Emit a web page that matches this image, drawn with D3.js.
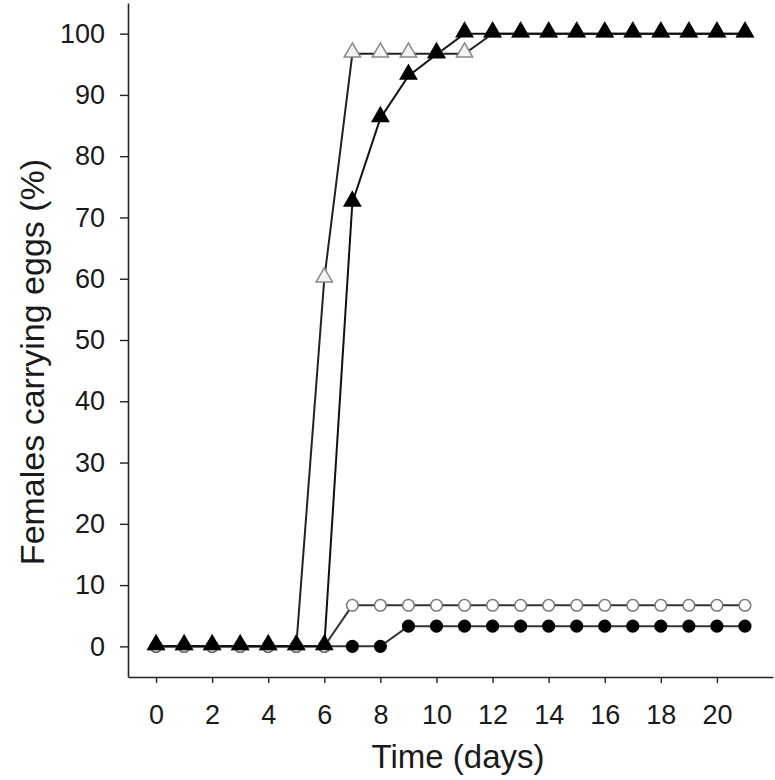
<!DOCTYPE html>
<html><head><meta charset="utf-8">
<script src="https://cdn.jsdelivr.net/npm/d3@7"></script>
<style>body{margin:0;background:#fff}svg{display:block}text{font-family:"Liberation Sans",Arial,sans-serif}</style>
</head><body><svg id="c" width="775" height="780"></svg>
<script>
const days = d3.range(0, 22);
const xTicks = [0,2,4,6,8,10,12,14,16,18,20];
const yTicks = [0,10,20,30,40,50,60,70,80,90,100];
const openTriangle = [0,0,0,0,0,0,60,96.7,96.7,96.7,96.7,96.7,100,100,100,100,100,100,100,100,100,100];
const filledTriangle = [0,0,0,0,0,0,0,72.4,86.2,93.1,96.6,100,100,100,100,100,100,100,100,100,100,100];
const openCircle = [0,0,0,0,0,0,0,6.7,6.7,6.7,6.7,6.7,6.7,6.7,6.7,6.7,6.7,6.7,6.7,6.7,6.7,6.7];
const filledCircle = [0,0,0,0,0,0,0,0,0,3.3,3.3,3.3,3.3,3.3,3.3,3.3,3.3,3.3,3.3,3.3,3.3,3.3];

const svg = d3.select("#c");
const x = d3.scaleLinear().domain([-1, 22]).range([128, 773]);
const y = d3.scaleLinear().domain([-5, 105]).range([677, 3]);

const xa = svg.append("g").attr("transform","translate(0,677)")
  .call(d3.axisBottom(x).tickValues(xTicks).tickSize(6).tickSizeOuter(0).tickPadding(22));
const ya = svg.append("g").attr("transform","translate(128,0)")
  .call(d3.axisLeft(y).tickValues(yTicks).tickSize(8).tickSizeOuter(0).tickPadding(15));
[xa, ya].forEach(a => {
  a.select(".domain").attr("stroke","#222").attr("stroke-width",1.6);
  a.selectAll(".tick line").attr("stroke","#222").attr("stroke-width",1.4);
  a.selectAll(".tick text").attr("fill","#1a1a1a").style("font-size","27px");
});
xa.selectAll(".tick text").attr("dy","0.71em");

svg.append("text").attr("x", 458).attr("y", 768).attr("text-anchor","middle")
  .style("font-size","33px").attr("fill","#1a1a1a").text("Time (days)");
svg.append("text").attr("transform","translate(44,362) rotate(-90)").attr("text-anchor","middle")
  .style("font-size","34px").attr("fill","#1a1a1a").text("Females carrying eggs (%)");

const line = d3.line().x((d,i)=>x(days[i])).y(d=>y(d));
const series = [
  {v: filledCircle, stroke:"#333", shape:"circle", fill:"#000", mstroke:"#000"},
  {v: openCircle, stroke:"#333", shape:"circle", fill:"#fff", mstroke:"#777"},
  {v: openTriangle, stroke:"#222", shape:"triangle", fill:"#f4f4f4", mstroke:"#888"},
  {v: filledTriangle, stroke:"#111", shape:"triangle", fill:"#000", mstroke:"#000"}
];
series.forEach(s => {
  svg.append("path").datum(s.v).attr("d", line).attr("fill","none")
    .attr("stroke", s.stroke).attr("stroke-width", 2);
});
const tri = d3.symbol().type(d3.symbolTriangle).size(115);
series.forEach(s => {
  const g = svg.append("g");
  if (s.shape === "circle") {
    g.selectAll("circle").data(s.v).join("circle")
      .attr("cx",(d,i)=>x(days[i])).attr("cy",d=>y(d)).attr("r",5.8)
      .attr("fill",s.fill).attr("stroke",s.mstroke).attr("stroke-width",1.5);
  } else {
    g.selectAll("path").data(s.v).join("path")
      .attr("d", tri).attr("transform",(d,i)=>`translate(${x(days[i])},${y(d)-1.5})`)
      .attr("fill",s.fill).attr("stroke",s.mstroke).attr("stroke-width",1.5);
  }
});
</script></body></html>
